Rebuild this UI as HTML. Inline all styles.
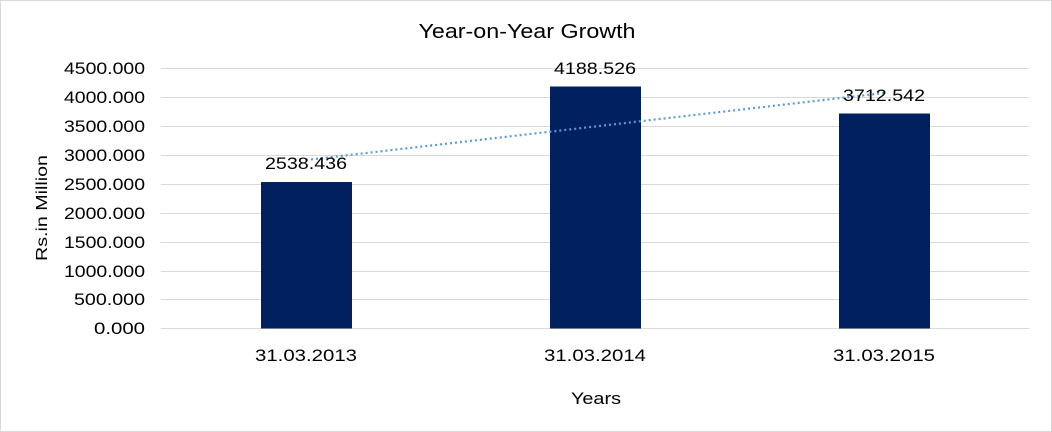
<!DOCTYPE html>
<html><head><style>
html,body{margin:0;padding:0;background:#fff;}
svg{display:block;font-family:"Liberation Sans",Arial,sans-serif;}
</style></head><body>
<svg width="1052" height="432" viewBox="0 0 1052 432">
<rect x="0.5" y="0.5" width="1051" height="431" fill="#fff" stroke="#d9d9d9"/>
<text x="527" y="38" font-size="20" text-anchor="middle" fill="#000" textLength="217" lengthAdjust="spacingAndGlyphs">Year-on-Year Growth</text>
<g stroke="#d9d9d9" stroke-width="1">
<line x1="161" x2="1029" y1="68.5" y2="68.5"/>
<line x1="161" x2="1029" y1="97.5" y2="97.5"/>
<line x1="161" x2="1029" y1="126.5" y2="126.5"/>
<line x1="161" x2="1029" y1="155.5" y2="155.5"/>
<line x1="161" x2="1029" y1="184.5" y2="184.5"/>
<line x1="161" x2="1029" y1="213.5" y2="213.5"/>
<line x1="161" x2="1029" y1="242.5" y2="242.5"/>
<line x1="161" x2="1029" y1="271.5" y2="271.5"/>
<line x1="161" x2="1029" y1="299.5" y2="299.5"/>
<line x1="161" x2="1029" y1="328.5" y2="328.5"/>
</g>
<g font-size="17" text-anchor="end" fill="#000">
<text x="145" y="74" textLength="81" lengthAdjust="spacingAndGlyphs">4500.000</text>
<text x="145" y="103" textLength="81" lengthAdjust="spacingAndGlyphs">4000.000</text>
<text x="145" y="132" textLength="81" lengthAdjust="spacingAndGlyphs">3500.000</text>
<text x="145" y="161" textLength="81" lengthAdjust="spacingAndGlyphs">3000.000</text>
<text x="145" y="190" textLength="81" lengthAdjust="spacingAndGlyphs">2500.000</text>
<text x="145" y="219" textLength="81" lengthAdjust="spacingAndGlyphs">2000.000</text>
<text x="145" y="248" textLength="81" lengthAdjust="spacingAndGlyphs">1500.000</text>
<text x="145" y="277" textLength="81" lengthAdjust="spacingAndGlyphs">1000.000</text>
<text x="145" y="305" textLength="71" lengthAdjust="spacingAndGlyphs">500.000</text>
<text x="145" y="334" textLength="51" lengthAdjust="spacingAndGlyphs">0.000</text>
</g>
<g fill="#002060">
<rect x="261" y="182" width="91" height="146.5"/>
<rect x="550" y="86.5" width="91" height="242"/>
<rect x="839" y="113.5" width="91" height="215"/>
</g>
<line x1="306" y1="160" x2="884" y2="93" stroke="#5b9bd5" stroke-width="2.2" stroke-dasharray="2,3"/>
<g font-size="17" text-anchor="middle" fill="#000">
<text x="306" y="169" textLength="82" lengthAdjust="spacingAndGlyphs">2538.436</text>
<text x="595" y="74" textLength="82" lengthAdjust="spacingAndGlyphs">4188.526</text>
<text x="884" y="101" textLength="82" lengthAdjust="spacingAndGlyphs">3712.542</text>
<text x="306" y="361" textLength="102" lengthAdjust="spacingAndGlyphs">31.03.2013</text>
<text x="595" y="361" textLength="102" lengthAdjust="spacingAndGlyphs">31.03.2014</text>
<text x="884" y="361" textLength="102" lengthAdjust="spacingAndGlyphs">31.03.2015</text>
<text x="596" y="404" textLength="50" lengthAdjust="spacingAndGlyphs">Years</text>
</g>
<text transform="translate(47,208) rotate(-90)" font-size="16" text-anchor="middle" textLength="106" lengthAdjust="spacingAndGlyphs">Rs.in Million</text>
</svg>
</body></html>
